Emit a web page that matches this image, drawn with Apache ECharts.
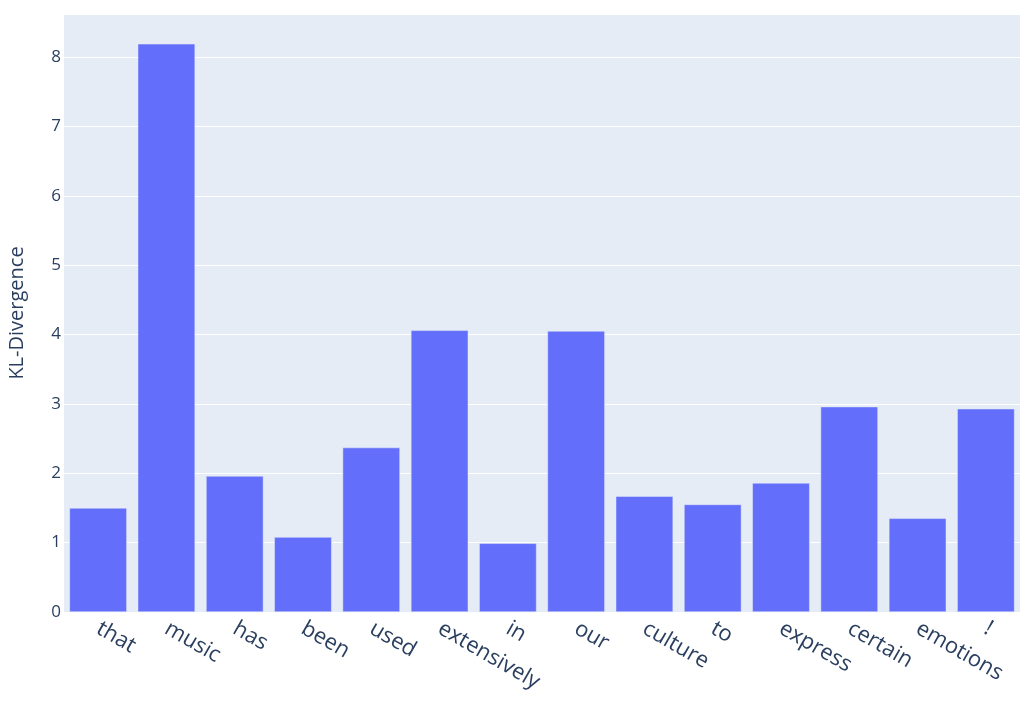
<!DOCTYPE html>
<html>
<head>
<meta charset="utf-8">
<script src="https://cdn.jsdelivr.net/npm/echarts@6/dist/echarts.min.js"></script>
<style>
html,body{margin:0;padding:0;background:#fff;}
#chart{width:1028px;height:713px;}
</style>
</head>
<body>
<div id="chart"></div>
<script>
const categories = ["that","music","has","been","used","extensively","in","our","culture","to","express","certain","emotions","!"];
const klValues = [1.50, 8.19, 1.96, 1.08, 2.37, 4.06, 0.99, 4.05, 1.67, 1.55, 1.86, 2.96, 1.35, 2.93];
const yAxisTitle = "KL-Divergence";

const chart = echarts.init(document.getElementById('chart'), null, {renderer: 'canvas'});
chart.setOption({
  animation: false,
  backgroundColor: '#ffffff',
  textStyle: {fontFamily: '"Open Sans", sans-serif', color: '#2a3f5f'},
  grid: {left: 64, right: 8, top: 14, bottom: 101, show: true, backgroundColor: '#E5ECF6', borderWidth: 0, containLabel: false, outerBoundsMode: 'none'},
  xAxis: {
    type: 'category',
    data: categories,
    axisLine: {show: false},
    axisTick: {show: false},
    axisLabel: {rotate: -30, fontSize: 22, color: '#2a3f5f', margin: 15, interval: 0, fontFamily: '"Open Sans", sans-serif'},
    splitLine: {show: false}
  },
  yAxis: {
    type: 'value',
    min: 0,
    max: 8.62,
    interval: 1,
    name: yAxisTitle,
    nameLocation: 'middle',
    nameGap: 37,
    nameTextStyle: {fontSize: 20, color: '#2a3f5f', fontFamily: '"Open Sans", sans-serif'},
    axisLine: {show: false},
    axisTick: {show: false},
    axisLabel: {fontSize: 17, color: '#2a3f5f', margin: 3, showMaxLabel: false, fontFamily: '"Open Sans", sans-serif'},
    splitLine: {show: true, lineStyle: {color: '#ffffff', width: 1}}
  },
  series: [{
    type: 'bar',
    data: klValues,
    barCategoryGap: '16%',
    itemStyle: {color: '#636efa', borderColor: '#E5ECF6', borderWidth: 0.5}
  }]
});
</script>
</body>
</html>
